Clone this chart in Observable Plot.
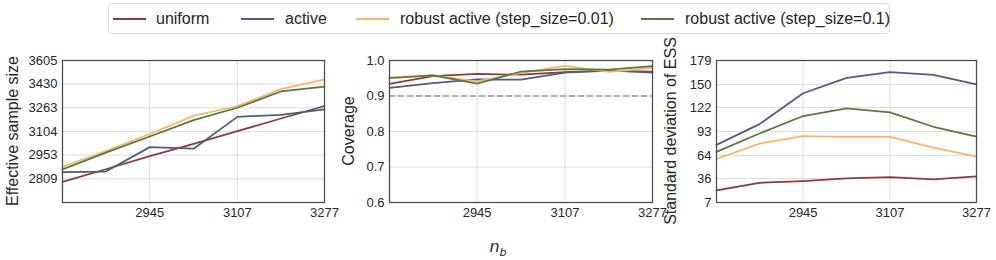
<!DOCTYPE html>
<html><head><meta charset="utf-8">
<script src="https://cdn.jsdelivr.net/npm/d3@7"></script>
<script src="https://cdn.jsdelivr.net/npm/@observablehq/plot@0.6"></script>
<style>
body{margin:0;background:#fff;font-family:"Liberation Sans",Arial,sans-serif;}
#wrap{position:relative;width:996px;height:260px;overflow:hidden;background:#fff}
.panel{position:absolute;top:0}
.ylab{position:absolute;font-size:16px;color:#262626;transform:translate(-50%,-50%) rotate(-90deg);white-space:nowrap}
#legend{position:absolute;left:108px;top:3px;width:782px;height:31px;border:1px solid #dcdcdc;border-radius:4px;background:#fff;box-sizing:border-box;z-index:5}
.item{position:absolute;top:0;height:29px;line-height:29px;font-size:16px;color:#262626;white-space:nowrap}
.sw{position:absolute;top:14px;width:33px;height:2px}
#xlab{position:absolute;left:498px;top:248px;transform:translate(-50%,-50%);font-family:"DejaVu Sans",sans-serif;font-size:16px;color:#262626;white-space:nowrap}
</style></head>
<body>
<div id="wrap"></div>
<script>
// ---- data ----
const seriesNames = ["uniform", "active", "robust active (step_size=0.01)", "robust active (step_size=0.1)"];
const seriesColors = ["#8c3a3c", "#4f5d7e", "#fdb46a", "#557a3a"];
const nb = [2792, 2867, 2945, 3025, 3107, 3191, 3277];
const xTicks = [2945, 3107, 3277];

const essUniform = [2791, 2866, 2947, 3024, 3106, 3190, 3275];
const essActive = [2849, 2852, 3003, 2993, 3201, 3215, 3252];
const essRobust001 = [2881, 2978, 3087, 3208, 3275, 3394, 3464];
const essRobust01 = [2865, 2968, 3071, 3179, 3263, 3377, 3411];
const essTicks = [2809, 2953, 3104, 3263, 3430, 3605];
const essDomain = [2672, 3605];

const covUniform = [0.934, 0.956, 0.962, 0.960, 0.967, 0.971, 0.969];
const covActive = [0.923, 0.936, 0.947, 0.946, 0.966, 0.972, 0.966];
const covRobust001 = [0.953, 0.958, 0.941, 0.965, 0.985, 0.968, 0.979];
const covRobust01 = [0.950, 0.958, 0.935, 0.969, 0.976, 0.974, 0.984];
const covTicks = [0.6, 0.7, 0.8, 0.9, 1.0];
const covTarget = [0.9];

const sdUniform = [21.6, 30.9, 33.0, 36.2, 37.8, 35.0, 38.6];
const sdActive = [76.8, 101.9, 139.3, 157.9, 164.8, 161.6, 150.2];
const sdRobust001 = [59.7, 78.4, 87.3, 86.5, 86.5, 73.5, 62.6];
const sdRobust01 = [68.3, 90.6, 111.7, 121.0, 116.1, 98.7, 86.9];
const sdTicks = [7, 36, 64, 93, 122, 150, 179];

const yLabels = ["Effective sample size", "Coverage", "Standard deviation of ESS"];

function toRows(arrs) {
  const rows = [];
  arrs.forEach((a, i) => a.forEach((v, j) => rows.push({series: seriesNames[i], nb: nb[j], v})));
  return rows;
}

const wrap = document.getElementById("wrap");

function makePanel({left, width, ml, mr, y, yTicks, yFormat, rows, extra = []}) {
  const p = Plot.plot({
    width, height: 260,
    marginTop: 60, marginBottom: 58, marginLeft: ml, marginRight: mr,
    style: {fontFamily: "Liberation Sans, Arial, sans-serif", fontSize: "13px", color: "#262626", background: "transparent", overflow: "visible"},
    x: {type: "log", domain: [nb[0], nb[nb.length - 1]], ticks: xTicks, tickFormat: d => String(d), tickSize: 0, tickPadding: 5, label: null},
    y: {...y, ticks: yTicks, tickFormat: yFormat, tickSize: 0, tickPadding: 5, label: null},
    color: {domain: seriesNames, range: seriesColors},
    marks: [
      Plot.gridX(xTicks, {stroke: "#dcdcdc", strokeOpacity: 1, strokeWidth: 1}),
      Plot.gridY(yTicks, {stroke: "#dcdcdc", strokeOpacity: 1, strokeWidth: 1}),
      ...extra,
      Plot.line(rows, {x: "nb", y: "v", stroke: "series", z: "series", strokeWidth: 1.75}),
      Plot.frame({stroke: "#4a4a4a", strokeWidth: 1.25})
    ]
  });
  p.classList.add("panel");
  p.style.left = left + "px";
  p.style.position = "absolute";
  p.style.maxWidth = "none";
  wrap.appendChild(p);
}

makePanel({left: 0, width: 340, ml: 62, mr: 16,
  y: {type: "log", domain: essDomain}, yTicks: essTicks, yFormat: d => String(d),
  rows: toRows([essUniform, essActive, essRobust001, essRobust01])});

makePanel({left: 340, width: 330, ml: 49, mr: 18,
  y: {type: "linear", domain: [0.6, 1.0]}, yTicks: covTicks, yFormat: d3.format(".1f"),
  rows: toRows([covUniform, covActive, covRobust001, covRobust01]),
  extra: [Plot.ruleY(covTarget, {stroke: "#999999", strokeWidth: 1.5, strokeDasharray: "6,3"})]});

makePanel({left: 670, width: 326, ml: 46, mr: 20,
  y: {type: "linear", domain: [sdTicks[0], sdTicks[sdTicks.length - 1]]}, yTicks: sdTicks, yFormat: d => String(d),
  rows: toRows([sdUniform, sdActive, sdRobust001, sdRobust01])});

// y labels
[[13, yLabels[0]], [349, yLabels[1]], [671, yLabels[2]]].forEach(([x, t]) => {
  const d = document.createElement("div");
  d.className = "ylab";
  d.style.left = x + "px";
  d.style.top = "131px";
  d.textContent = t;
  wrap.appendChild(d);
});

// x label
const xl = document.createElement("div");
xl.id = "xlab";
xl.innerHTML = "<i>n</i><sub style='font-size:11px;font-style:italic'>b</sub>";
wrap.appendChild(xl);

// legend
const leg = document.createElement("div");
leg.id = "legend";
const swLeft = [113, 241, 356, 641];
const txLeft = [156, 285, 400, 685];
seriesNames.forEach((s, i) => {
  const sw = document.createElement("div");
  sw.className = "sw";
  sw.style.left = (swLeft[i] - 109) + "px";
  sw.style.background = seriesColors[i];
  leg.appendChild(sw);
  const t = document.createElement("div");
  t.className = "item";
  t.style.left = (txLeft[i] - 109) + "px";
  t.textContent = s;
  leg.appendChild(t);
});
wrap.appendChild(leg);
</script>
</body></html>
